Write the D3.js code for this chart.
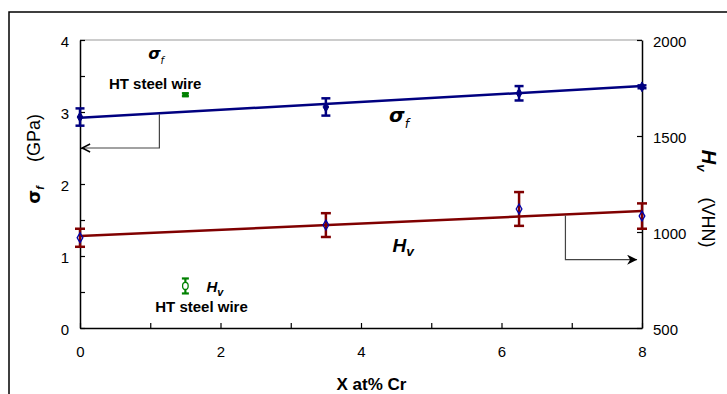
<!DOCTYPE html>
<html>
<head>
<meta charset="utf-8">
<script src="https://cdn.jsdelivr.net/npm/d3@7"></script>
<style>
  body { margin: 0; background: #fff; }
  svg { display: block; font-family: Arial, "Liberation Sans", sans-serif; }
</style>
</head>
<body>
<div id="chart"></div>
<script>
const crContent = [0, 3.5, 6.25, 8];
const fractureStress = [2.93, 3.07, 3.26, 3.35];
const fractureStressErr = [0.12, 0.12, 0.10, 0.02];
const hardness = [970, 1036, 1120, 1083];
const hardnessErr = [47, 62, 88, 66];

// linear fits, end points at x = 0 and x = 8
const fitX = [0, 8];
const fractureStressFit = [2.92, 3.36];
const hardnessFit = [979, 1109];

// HT steel wire reference points
const wireX = [1.5];
const wireStress = [3.24];
const wireStressErr = [0.02];
const wireHardness = [719];
const wireHardnessErr = [39];

const xTicks = [0, 1, 2, 3, 4, 5, 6, 7, 8];
const leftTicks = [0, 0.5, 1, 1.5, 2, 2.5, 3, 3.5, 4];
const rightTicks = [500, 1000, 1500, 2000];

const W = 727, H = 394;
const margin = {top: 40, right: 85, bottom: 66, left: 80};
const width = W - margin.left - margin.right;
const height = H - margin.top - margin.bottom;

const blue = '#000080', red = '#800000', green = '#008000';

const svg = d3.select('#chart').append('svg')
  .attr('width', W)
  .attr('height', H);

// outer frame (runs off the right / bottom edge)
svg.append('rect')
  .attr('x', 9).attr('y', 12)
  .attr('width', 760).attr('height', 420)
  .attr('fill', 'none')
  .attr('stroke', '#000')
  .attr('stroke-width', 1.5);

const x = d3.scaleLinear().domain([0, 8]).range([0, width]);
const yL = d3.scaleLinear().domain([0, 4]).range([height, 0]);
const yR = d3.scaleLinear().domain([500, 2000]).range([height, 0]);

const g = svg.append('g')
  .attr('transform', `translate(${margin.left},${margin.top})`);

// plot area top border
g.append('line')
  .attr('x1', 0).attr('x2', width)
  .attr('y1', 0).attr('y2', 0)
  .attr('stroke', '#999').attr('stroke-width', 1.2);

// axes
const xAxis = d3.axisBottom(x).tickValues(xTicks).tickSizeInner(-5).tickSizeOuter(0)
  .tickPadding(18)
  .tickFormat(d => d % 2 === 0 ? d : '');
const leftAxis = d3.axisLeft(yL).tickValues(leftTicks).tickSizeInner(-5).tickSizeOuter(0)
  .tickPadding(11)
  .tickFormat(d => Number.isInteger(d) ? d : '');
const rightAxis = d3.axisRight(yR).tickValues(rightTicks).tickSizeInner(-5).tickSizeOuter(0)
  .tickPadding(11)
  .tickFormat(d3.format('d'));

function styleAxis(sel) {
  sel.select('.domain').attr('stroke', '#000').attr('stroke-width', 1.5);
  sel.selectAll('.tick line').attr('stroke', '#000').attr('stroke-width', 1.2);
  sel.selectAll('.tick text').attr('font-size', 15).attr('fill', '#000')
    .attr('font-family', 'Arial, "Liberation Sans", sans-serif');
}

g.append('g').attr('transform', `translate(0,${height})`).call(xAxis).call(styleAxis);
g.append('g').call(leftAxis).call(styleAxis)
  .selectAll('.tick text').attr('dy', '0.4em');
g.append('g').attr('transform', `translate(${width},0)`).call(rightAxis).call(styleAxis)
  .selectAll('.tick text').attr('dy', '0.4em');

// fit lines
const stressLine = d3.line().x((d, i) => x(fitX[i])).y(d => yL(d));
const hardLine = d3.line().x((d, i) => x(fitX[i])).y(d => yR(d));

g.append('path').datum(fractureStressFit)
  .attr('d', stressLine)
  .attr('fill', 'none').attr('stroke', blue).attr('stroke-width', 2.5);
g.append('path').datum(hardnessFit)
  .attr('d', hardLine)
  .attr('fill', 'none').attr('stroke', red).attr('stroke-width', 2.5);

// error bars
function errorBars(xs, ys, errs, yScale, color, capW, sw) {
  const eg = g.append('g');
  xs.forEach((xv, i) => {
    const cx = x(xv), y1 = yScale(ys[i] - errs[i]), y2 = yScale(ys[i] + errs[i]);
    eg.append('line').attr('x1', cx).attr('x2', cx).attr('y1', y1).attr('y2', y2)
      .attr('stroke', color).attr('stroke-width', sw);
    [y1, y2].forEach(yy => {
      eg.append('line').attr('x1', cx - capW / 2).attr('x2', cx + capW / 2)
        .attr('y1', yy).attr('y2', yy)
        .attr('stroke', color).attr('stroke-width', sw);
    });
  });
}

errorBars(crContent, fractureStress, fractureStressErr, yL, blue, 9, 2.5);
errorBars(crContent, hardness, hardnessErr, yR, red, 10, 2.5);
errorBars(wireX, wireStress, wireStressErr, yL, green, 7, 2.2);
errorBars(wireX, wireHardness, wireHardnessErr, yR, green, 7, 2.2);

// markers
const diamond = d3.symbol().type(d3.symbolDiamond).size(28);
g.selectAll('.sf-pt').data(fractureStress).enter().append('path')
  .attr('class', 'sf-pt')
  .attr('d', diamond)
  .attr('transform', (d, i) => `translate(${x(crContent[i])},${yL(d)})`)
  .attr('fill', blue).attr('stroke', blue);
g.selectAll('.hv-pt').data(hardness).enter().append('path')
  .attr('class', 'hv-pt')
  .attr('d', diamond)
  .attr('transform', (d, i) => `translate(${x(crContent[i])},${yR(d)})`)
  .attr('fill', 'none').attr('stroke', '#0000aa').attr('stroke-width', 1.3);
g.selectAll('.wire-sf').data(wireStress).enter().append('rect')
  .attr('x', (d, i) => x(wireX[i]) - 3).attr('y', d => yL(d) - 2.5)
  .attr('width', 6).attr('height', 5)
  .attr('fill', green);
g.selectAll('.wire-hv').data(wireHardness).enter().append('ellipse')
  .attr('cx', (d, i) => x(wireX[i])).attr('cy', d => yR(d))
  .attr('rx', 2.8).attr('ry', 3.5)
  .attr('fill', '#fff').attr('stroke', green).attr('stroke-width', 1.3);

// connector arrows
const defs = svg.append('defs');
defs.append('marker').attr('id', 'openArrow')
  .attr('viewBox', '0 0 10 10').attr('refX', 9).attr('refY', 5)
  .attr('markerWidth', 10).attr('markerHeight', 10).attr('markerUnits', 'userSpaceOnUse')
  .attr('orient', 'auto')
  .append('path').attr('d', 'M1,1 L9,5 L1,9').attr('fill', 'none')
  .attr('stroke', '#000').attr('stroke-width', 1.4);
defs.append('marker').attr('id', 'solidArrow')
  .attr('viewBox', '0 0 10 10').attr('refX', 10).attr('refY', 5)
  .attr('markerWidth', 10).attr('markerHeight', 10).attr('markerUnits', 'userSpaceOnUse')
  .attr('orient', 'auto')
  .append('path').attr('d', 'M0,0 L10,5 L0,10 L3,5 Z').attr('fill', '#000');

const stressAt = xv => fractureStressFit[0] + (fractureStressFit[1] - fractureStressFit[0]) * xv / 8;
const hardAt = xv => hardnessFit[0] + (hardnessFit[1] - hardnessFit[0]) * xv / 8;

g.append('path')
  .attr('d', `M${x(1.13)},${yL(stressAt(1.13)) + 1}V${yL(2.5)}H${x(0.03)}`)
  .attr('fill', 'none').attr('stroke', '#444').attr('stroke-width', 1.2)
  .attr('marker-end', 'url(#openArrow)');
g.append('path')
  .attr('d', `M${x(6.91)},${yR(hardAt(6.91)) + 1}V${yR(856)}H${x(7.93)}`)
  .attr('fill', 'none').attr('stroke', '#444').attr('stroke-width', 1.2)
  .attr('marker-end', 'url(#solidArrow)');

// annotation text
function sigmaLabel(px, py, size) {
  const t = g.append('text').attr('x', px).attr('y', py)
    .attr('font-weight', 'bold').attr('font-style', 'italic').attr('font-size', size)
    .attr('font-family', '"DejaVu Sans", Arial, sans-serif');
  t.append('tspan').text('σ');
  t.append('tspan').attr('dy', size * 0.3).attr('font-size', size * 0.62)
    .attr('font-weight', 'normal').text('f');
  return t;
}
function hvLabel(px, py, size) {
  const t = g.append('text').attr('x', px).attr('y', py)
    .attr('font-weight', 'bold').attr('font-style', 'italic').attr('font-size', size);
  t.append('tspan').text('H');
  t.append('tspan').attr('dy', size * 0.25).attr('font-size', size * 0.72).text('v');
  return t;
}

sigmaLabel(x(0.97), yL(3.73), 16);
g.append('text').attr('x', x(1.07)).attr('y', yL(3.32))
  .attr('text-anchor', 'middle').attr('font-weight', 'bold').attr('font-size', 15)
  .text('HT steel wire');

sigmaLabel(x(4.4), yL(2.86), 20);
hvLabel(x(4.45), yR(898), 19);

hvLabel(x(1.8), yR(686), 15);
g.append('text').attr('x', x(1.73)).attr('y', yR(585))
  .attr('text-anchor', 'middle').attr('font-weight', 'bold').attr('font-size', 15)
  .text('HT steel wire');

// axis titles
const leftTitle = svg.append('text')
  .attr('transform', `translate(40,${margin.top + yL(2.35)}) rotate(-90)`)
  .attr('text-anchor', 'middle').attr('font-size', 18);
leftTitle.append('tspan').attr('font-weight', 'bold')
  .attr('font-family', '"DejaVu Sans", Arial, sans-serif').text('σ');
leftTitle.append('tspan').attr('font-weight', 'bold').attr('font-style', 'italic')
  .attr('font-size', 11).attr('dy', 4).text('f');
leftTitle.append('tspan').attr('dy', -4).attr('dx', 24).text('(GPa)');

const rightTitle = svg.append('text')
  .attr('transform', `translate(702,${margin.top + yR(1174)}) rotate(90)`)
  .attr('text-anchor', 'middle').attr('font-size', 18);
rightTitle.append('tspan').attr('font-weight', 'bold').attr('font-style', 'italic')
  .attr('font-size', 20).text('H');
rightTitle.append('tspan').attr('font-weight', 'bold').attr('font-style', 'italic')
  .attr('font-size', 13).attr('dy', 5).text('v');
rightTitle.append('tspan').attr('dy', -5).attr('dx', 26).text('(VHN)');

svg.append('text')
  .attr('x', margin.left + x(4.15)).attr('y', 390)
  .attr('text-anchor', 'middle').attr('font-weight', 'bold').attr('font-size', 17)
  .text('X at% Cr');
</script>
</body>
</html>
